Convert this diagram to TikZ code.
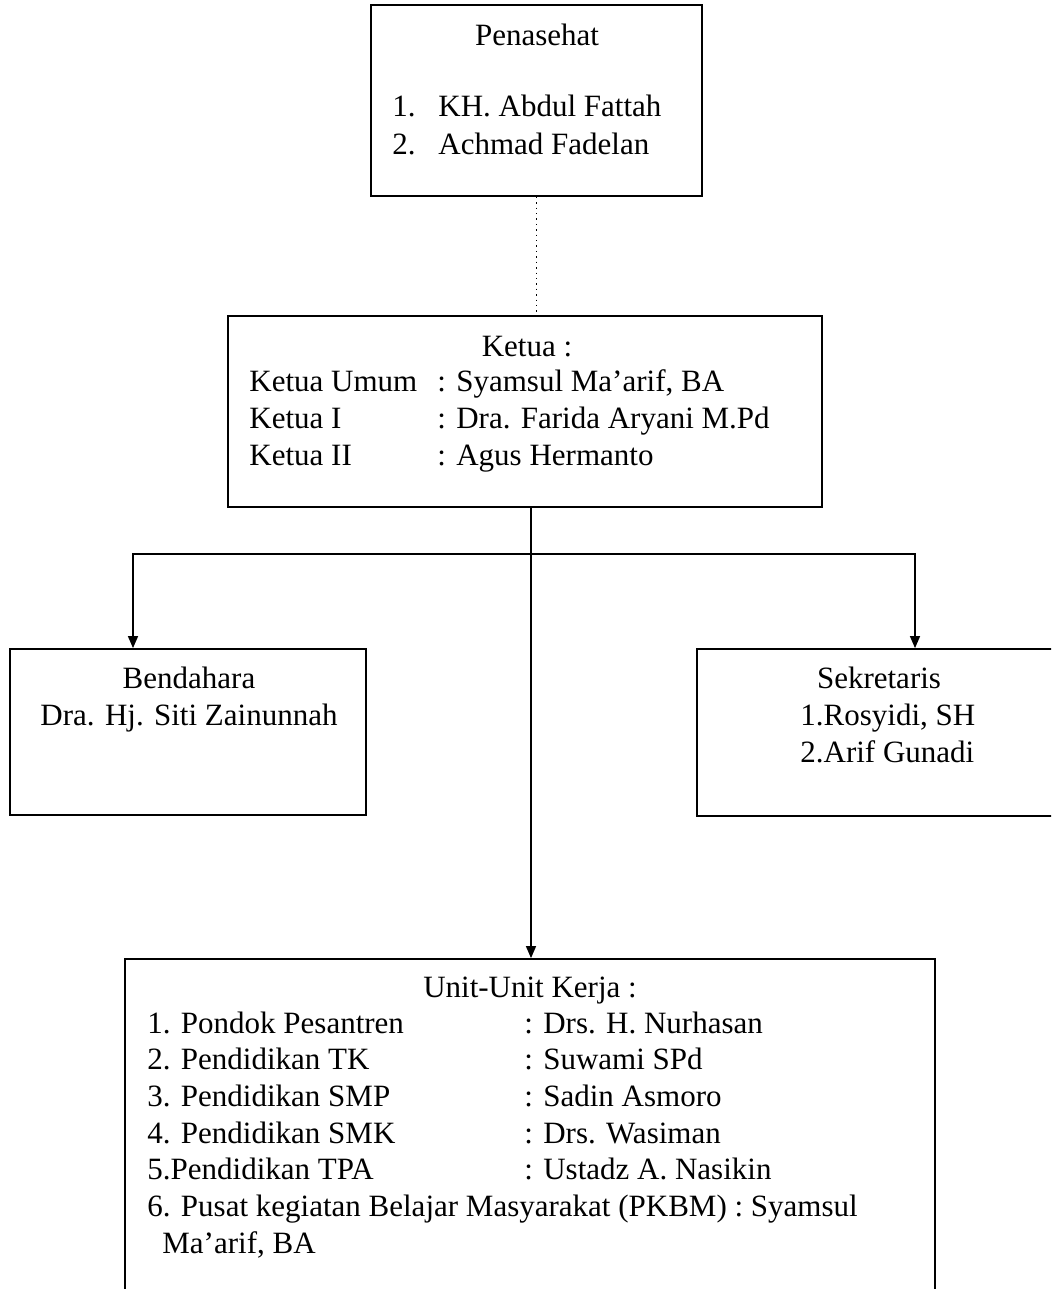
\documentclass[tikz,border=0pt]{standalone}
\usepackage{fontspec}
\setmainfont{Liberation Serif}
\usetikzlibrary{arrows.meta,positioning}

\tikzset{
  box/.style={draw, rectangle, line width=0.9pt, inner sep=0pt},
  txt/.style={inner sep=0pt, font=\fontsize{15.5}{18.5}\selectfont},
  link/.style={line width=0.7pt, -{Triangle[length=6pt,width=5pt]}},
}

\begin{document}
\begin{tikzpicture}[x=0.5pt,y=-0.5pt]
  \useasboundingbox (0,0) rectangle (1051,1289);
  \clip (0,0) rectangle (1051,1289);

  % boxes
  \node[box, minimum width=165.5pt, minimum height=95.5pt] (penasehat) at (536.5,100.5) {};
  \node[box, minimum width=297pt, minimum height=95.5pt]   (ketua)     at (525,411.5) {};
  \node[box, minimum width=178pt, minimum height=83pt]     (bend)      at (188,732) {};
  \node[box, minimum width=184pt, minimum height=83.5pt]   (sek)       at (881,732.5) {};
  \node[box, minimum width=405pt, minimum height=175.5pt]  (unit)      at (530,1134.5) {};

  % texts
  \node[txt, anchor=base] (penasehattitle) at (537,46) {Penasehat};
  \node[txt, anchor=base west, font=\fontsize{15.5}{19}\selectfont] (penasehatlist) at (392,117)
    {\begin{tabular}[t]{@{}p{23pt}@{}l@{}}
      1. & KH. Abdul Fattah\\
      2. & Achmad Fadelan
     \end{tabular}};

  \node[txt, anchor=base] (ketuatitle) at (527,356) {Ketua :};
  \node[txt, anchor=base west] (ketualist) at (249,391)
    {\begin{tabular}[t]{@{}p{94pt}@{}l@{}}
      Ketua Umum & : Syamsul Ma’arif, BA\\
      Ketua I    & : Dra. Farida Aryani M.Pd\\
      Ketua II   & : Agus Hermanto
     \end{tabular}};

  \node[txt, anchor=base] (bendtext) at (189,688)
    {\begin{tabular}[t]{@{}c@{}}
      Bendahara\\
      Dra. Hj. Siti Zainunnah
     \end{tabular}};

  \node[txt, anchor=base] (sektitle) at (879,688) {Sekretaris};
  \node[txt, anchor=base west] (seklist) at (800,725)
    {\begin{tabular}[t]{@{}l@{}}
      1.Rosyidi, SH\\
      2.Arif Gunadi
     \end{tabular}};

  \node[txt, anchor=base] (unittitle) at (530,997) {Unit-Unit Kerja :};
  \node[txt, anchor=base west, font=\fontsize{15.5}{18.35}\selectfont] (unitlist) at (147,1033)
    {\begin{tabular}[t]{@{}p{188.5pt}@{}l@{}}
      1. Pondok Pesantren   & : Drs. H. Nurhasan\\
      2. Pendidikan TK      & : Suwami SPd\\
      3. Pendidikan SMP     & : Sadin Asmoro\\
      4. Pendidikan SMK     & : Drs. Wasiman\\
      5.Pendidikan TPA      & : Ustadz A. Nasikin\\
      \multicolumn{2}{@{}l@{}}{6. Pusat kegiatan Belajar Masyarakat (PKBM) : Syamsul}\\
      \multicolumn{2}{@{}l@{}}{\hspace{7.5pt}Ma’arif, BA}
     \end{tabular}};

  % connectors
  \coordinate (split) at (531,554);
  \coordinate (bendx) at (133,554);
  \coordinate (sekx)  at (915,554);
  \draw[dotted, line width=0.7pt] (penasehat.south) -- (penasehat.south |- ketua.north);
  \draw[link] (ketua.south -| split) -- (unit.north -| split);
  \draw[link] (split) -- (bendx) -- (bendx |- bend.north);
  \draw[link] (split) -- (sekx) -- (sekx |- sek.north);
\end{tikzpicture}
\end{document}
